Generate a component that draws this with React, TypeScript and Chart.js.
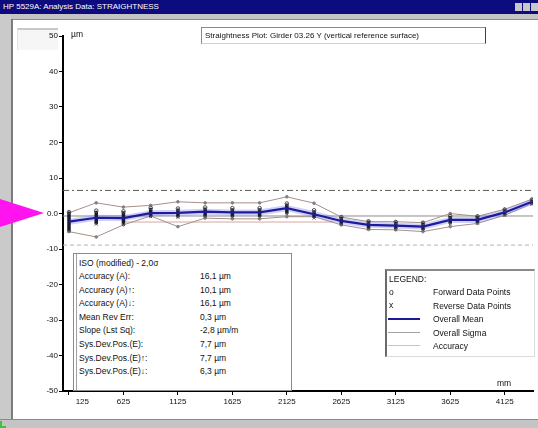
import React, { useEffect, useRef } from "react";
import { Chart, registerables } from "chart.js";

Chart.register(...registerables);

// ---- data (mm along girder, µm deviation) ----
const positions = [125, 375, 625, 875, 1125, 1375, 1625, 1875, 2125, 2375, 2625, 2875, 3125, 3375, 3625, 3875, 4125, 4375];
const meanValues = [-2.3, -1.2, -1.3, 0.1, 0.2, 0.5, 0.3, 0.3, 1.5, -0.2, -2.1, -3.2, -3.4, -3.7, -1.8, -1.8, 0.3, 3.3];
const forwardValues = [0.4, 0.8, 0.6, 1.6, 1.4, 1.7, 1.5, 1.5, 2.8, 0.9, -1.0, -2.2, -2.4, -2.6, -0.7, -0.8, 1.1, 3.9];
const reverseValues = [-5.0, -3.0, -3.1, -0.9, -1.1, -0.9, -1.0, -1.0, -0.1, -1.3, -3.1, -4.3, -4.4, -4.7, -2.9, -2.7, -0.5, 2.6];
const upperSigma = [0.2, 3.0, 1.8, 2.3, 3.3, 3.0, 3.0, 3.0, 4.7, 2.9, -1.0, -2.3, -2.3, -2.6, 0.0, -0.8, 1.2, 4.0];
const lowerSigma = [-5.1, -6.6, -3.2, -0.7, -3.7, -1.3, -1.5, -1.5, -0.9, -0.9, -3.2, -4.5, -4.6, -5.1, -3.7, -2.8, -0.5, 2.8];
const accuracyUpper = 6.5;
const accuracyLower = -8.9;
const referenceLevel = -0.7;
const reversalLevel = -2.4;
const reversalRange = [625, 2550];
const xRange = [70, 4385];
const xTickValues = [125, 625, 1125, 1625, 2125, 2625, 3125, 3625, 4125];
const yTickValues = [-50, -40, -30, -20, -10, 0, 10, 20, 30, 40, 50];

const windowTitle = "HP 5529A: Analysis Data: STRAIGHTNESS";
const plotTitle = "Straightness Plot: Girder 03.26 Y (vertical reference surface)";
const statsHeader = "ISO (modified) - 2,0\u03c3";
const statsLabels = [
  "Accuracy (A):",
  "Accuracy (A)\u2191:",
  "Accuracy (A)\u2193:",
  "Mean Rev Err:",
  "Slope (Lst Sq):",
  "Sys.Dev.Pos.(E):",
  "Sys.Dev.Pos.(E)\u2191:",
  "Sys.Dev.Pos.(E)\u2193:",
];
const statsValues = ["16,1 \u00b5m", "10,1 \u00b5m", "16,1 \u00b5m", "0,3 \u00b5m", "-2,8 \u00b5m/m", "7,7 \u00b5m", "7,7 \u00b5m", "6,3 \u00b5m"];
const legendLabels = ["Forward Data Points", "Reverse Data Points", "Overall Mean", "Overall Sigma", "Accuracy"];

const FONT = "'Liberation Sans', Arial, sans-serif";

export default function App() {
  const canvasRef = useRef<HTMLCanvasElement | null>(null);

  useEffect(() => {
    const canvas = canvasRef.current;
    if (!canvas) return;
    const pts = (vals: number[]) => positions.map((x, i) => ({ x, y: vals[i] }));
    const errorBars: { x: number; y: number | null }[] = [];
    positions.forEach((x, i) => {
      errorBars.push({ x, y: forwardValues[i] });
      errorBars.push({ x, y: reverseValues[i] });
      errorBars.push({ x, y: null });
    });
    const flat = (v: number, a = xRange[0], b = xRange[1]) => [
      { x: a, y: v },
      { x: b, y: v },
    ];

    const chart = new Chart(canvas, {
      type: "line",
      data: {
        datasets: [
          {
            label: "acc-up",
            data: flat(accuracyUpper),
            borderColor: "#56614f",
            borderWidth: 1,
            borderDash: [6, 3, 2, 3],
            pointRadius: 0,
            order: 10,
          },
          {
            label: "acc-low",
            data: flat(accuracyLower),
            borderColor: "#b0b4b8",
            borderWidth: 1,
            borderDash: [4, 3],
            pointRadius: 0,
            order: 10,
          },
          {
            label: "ref",
            data: flat(referenceLevel),
            borderColor: "#8c8c8c",
            borderWidth: 1,
            pointRadius: 0,
            order: 9,
          },
          {
            label: "rev",
            data: flat(reversalLevel, reversalRange[0], reversalRange[1]),
            borderColor: "#d4a8a0",
            borderWidth: 1,
            pointRadius: 0,
            order: 9,
          },
          {
            label: "sig-up",
            data: pts(upperSigma),
            borderColor: "#a89088",
            borderWidth: 1,
            pointRadius: 1.3,
            pointBackgroundColor: "#808080",
            pointBorderColor: "#808080",
            order: 8,
          },
          {
            label: "sig-low",
            data: pts(lowerSigma),
            borderColor: "#a89088",
            borderWidth: 1,
            pointRadius: 1.3,
            pointBackgroundColor: "#808080",
            pointBorderColor: "#808080",
            order: 8,
          },
          {
            label: "halo",
            data: pts(meanValues),
            borderColor: "rgba(120,120,240,0.35)",
            borderWidth: 6,
            pointRadius: 0,
            order: 7,
          },
          {
            label: "bars",
            data: errorBars,
            borderColor: "#1a1a30",
            borderWidth: 3.5,
            pointRadius: 0,
            spanGaps: false,
            order: 5,
          },
          {
            label: "mean",
            data: pts(meanValues),
            borderColor: "#1c1c9a",
            borderWidth: 2.2,
            pointRadius: 0,
            order: 4,
          },
          {
            label: "fwd",
            data: pts(forwardValues),
            showLine: false,
            pointStyle: "circle",
            pointRadius: 1.8,
            pointBackgroundColor: "rgba(0,0,0,0)",
            pointBorderColor: "#505050",
            pointBorderWidth: 1,
            order: 2,
          },
          {
            label: "rev-pts",
            data: pts(reverseValues),
            showLine: false,
            pointStyle: "crossRot",
            pointRadius: 2,
            pointBorderColor: "#505050",
            pointBorderWidth: 1,
            order: 2,
          },
        ],
      },
      options: {
        animation: false,
        responsive: false,
        maintainAspectRatio: false,
        devicePixelRatio: 1,
        layout: { padding: { left: 0, top: 36, right: 3, bottom: 0 } },
        plugins: { legend: { display: false }, tooltip: { enabled: false } },
        scales: {
          x: {
            type: "linear",
            min: xRange[0],
            max: xRange[1],
            afterBuildTicks: (s: any) => {
              s.ticks = xTickValues.map((v) => ({ value: v }));
            },
            afterFit: (s: any) => {
              s.height = 37;
            },
            ticks: {
              autoSkip: false,
              maxRotation: 0,
              padding: 2,
              color: "#111111",
              font: { family: FONT, size: 8 },
              callback: (v: any, i: number) => (i === 0 ? "            " + String(v) : String(v)),
            },
            grid: { drawOnChartArea: false, drawTicks: true, tickLength: 4, color: "#000", lineWidth: 1 },
            border: { display: true, color: "#000", width: 2 },
          },
          y: {
            type: "linear",
            min: -50,
            max: 50,
            afterBuildTicks: (s: any) => {
              s.ticks = yTickValues.map((v) => ({ value: v }));
            },
            afterFit: (s: any) => {
              s.width = 63;
            },
            ticks: {
              padding: 1,
              color: "#111111",
              font: { family: FONT, size: 8 },
              callback: (v: any) => (Number(v) === 0 ? "0.0" : String(v)),
            },
            grid: { drawOnChartArea: false, drawTicks: true, tickLength: 4, color: "#000", lineWidth: 1 },
            border: { display: true, color: "#000", width: 2 },
          },
        },
      },
    } as any);
    return () => chart.destroy();
  }, []);

  const abs = (s: React.CSSProperties): React.CSSProperties => ({ position: "absolute", ...s });
  const txt: React.CSSProperties = { fontFamily: FONT, fontSize: 8.5, color: "#111111", whiteSpace: "nowrap", lineHeight: "10px" };

  return (
    <div
      style={{
        position: "fixed",
        left: 0,
        top: 0,
        width: 538,
        height: 428,
        overflow: "hidden",
        background: "#ffffff",
        fontFamily: FONT,
      }}
    >
      {/* window chrome */}
      <div style={abs({ left: 0, top: 0, width: 538, height: 14, background: "#0c0c7e" })}>
        <div style={{ ...txt, position: "absolute", left: 3, top: 2, color: "#ffffff", fontSize: 8 }}>{windowTitle}</div>
        <div style={abs({ left: 515, top: 3, width: 7, height: 8, background: "#c8c8c8" })} />
        <div style={abs({ left: 523, top: 3, width: 7, height: 8, background: "#c8c8c8" })} />
        <div style={abs({ left: 531, top: 3, width: 7, height: 8, background: "#c8c8c8" })} />
      </div>
      <div style={abs({ left: 0, top: 14, width: 538, height: 5, background: "#c4c4c4" })} />
      <div style={abs({ left: 0, top: 19, width: 538, height: 1, background: "#8a8a8a" })} />
      <div style={abs({ left: 0, top: 14, width: 11, height: 414, background: "#cacaca" })} />
      <div style={abs({ left: 11, top: 19, width: 2, height: 401, background: "#7c7c7c" })} />
      <div style={abs({ left: 0, top: 420, width: 538, height: 8, background: "#c4c4c4" })} />
      <div style={abs({ left: 0, top: 419, width: 538, height: 1, background: "#8a8a8a" })} />
      <div style={abs({ left: 0, top: 421, width: 6, height: 7, borderLeft: "2px solid #3cc43c", borderBottom: "2px solid #3cc43c", boxSizing: "border-box" })} />
      <div style={abs({ left: 17, top: 28, width: 41, height: 22, background: "#f6f6f6", borderTop: "2px solid #c8c8c8", borderLeft: "1px solid #e2e2e2", boxSizing: "border-box" })} />
      <div style={abs({ left: 0, top: 199, width: 44, height: 28, background: "#ff14f0", clipPath: "polygon(0 0, 100% 50%, 0 100%)" })} />

      {/* chart */}
      <canvas ref={canvasRef} width={538} height={428} style={abs({ left: 0, top: 0, width: 538, height: 428 })} />

      {/* overlays */}
      <div style={{ ...txt, position: "absolute", left: 71, top: 29 }}>{"\u00b5m"}</div>
      <div style={{ ...txt, position: "absolute", left: 497, top: 378 }}>mm</div>

      <div
        style={abs({
          left: 201,
          top: 27,
          width: 285,
          height: 17,
          background: "#fff",
          borderTop: "1px solid #8a8a8a",
          borderLeft: "1px solid #8a8a8a",
          borderRight: "1px solid #404040",
          borderBottom: "1px solid #d0d0d0",
          boxSizing: "border-box",
        })}
      >
        <div style={{ ...txt, position: "absolute", left: 3, top: 3, fontSize: 8 }}>{plotTitle}</div>
      </div>

      <div
        style={abs({
          left: 73,
          top: 253,
          width: 219,
          height: 138,
          background: "#fff",
          border: "1px solid #8c8c8c",
          boxSizing: "border-box",
        })}
      >
        <div style={abs({ left: 2, top: 0, width: 1, height: 136, background: "#a0a0a0" })} />
        <div style={{ ...txt, position: "absolute", left: 5, top: 4 }}>{statsHeader}</div>
        {statsLabels.map((l, i) => (
          <React.Fragment key={l}>
            <div style={{ ...txt, position: "absolute", left: 5, top: 17 + i * 13.6 }}>{l}</div>
            <div style={{ ...txt, position: "absolute", left: 126, top: 17 + i * 13.6 }}>{statsValues[i]}</div>
          </React.Fragment>
        ))}
      </div>

      <div
        style={abs({
          left: 385,
          top: 269,
          width: 150,
          height: 88,
          background: "#fff",
          borderTop: "2px solid #8a8a8a",
          borderLeft: "2px solid #6a6a6a",
          borderRight: "1px solid #dcdcdc",
          borderBottom: "1px solid #dcdcdc",
          boxSizing: "border-box",
        })}
      >
        <div style={{ ...txt, position: "absolute", left: 2, top: 3 }}>LEGEND:</div>
        <div style={{ ...txt, position: "absolute", left: 2, top: 16 }}>o</div>
        <div style={{ ...txt, position: "absolute", left: 2, top: 29 }}>x</div>
        <div style={abs({ left: 1, top: 47, width: 32, height: 2, background: "#1c1c9a" })} />
        <div style={abs({ left: 1, top: 61, width: 32, height: 1, background: "#a0a0a0" })} />
        <div style={abs({ left: 1, top: 74, width: 32, height: 1, background: "#c4c4c4" })} />
        {legendLabels.map((l, i) => (
          <div key={l} style={{ ...txt, position: "absolute", left: 46, top: 16 + i * 13.5 }}>
            {l}
          </div>
        ))}
      </div>
    </div>
  );
}
